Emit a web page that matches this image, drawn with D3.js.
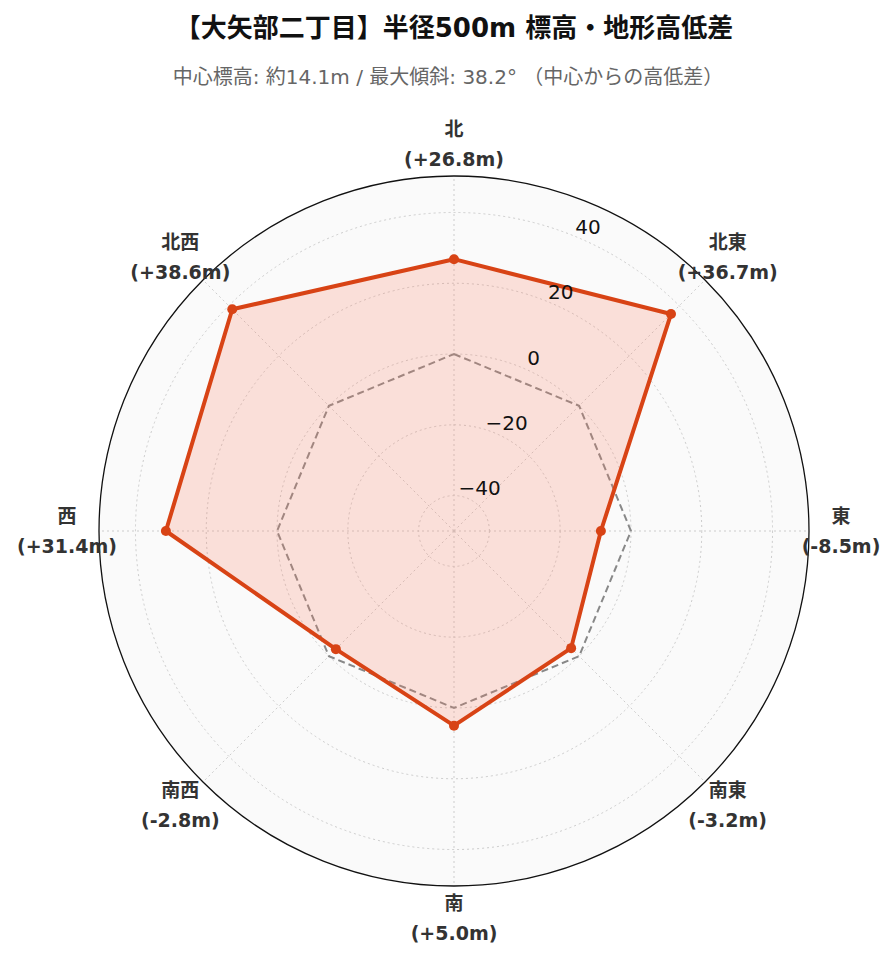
<!DOCTYPE html>
<html><head><meta charset="utf-8">
<script src="https://cdn.jsdelivr.net/npm/d3@7"></script>
<style>body{margin:0;background:#fff;font-family:"DejaVu Sans","Noto Sans CJK JP",sans-serif}</style>
</head><body>
<svg id="c" width="896" height="962"></svg>
<script>
const directions = ["北", "北東", "東", "南東", "南", "南西", "西", "北西"];
const values = [26.8, 36.7, -8.5, -3.2, 5.0, -2.8, 31.4, 38.6];
const radialTicks = [-40, -20, 0, 20, 40];
const title = "【大矢部二丁目】半径500m 標高・地形高低差";
const subtitle = "中心標高: 約14.1m / 最大傾斜: 38.2°  （中心からの高低差）";

const svg = d3.select("#c");
const cx = 454, cy = 531, R = 355;
const r = d3.scaleLinear().domain([-50, 50.3]).range([0, R]);
const ang = d3.scaleLinear().domain([0, directions.length]).range([0, 2 * Math.PI]);
const pt = (i, v) => [cx + r(v) * Math.sin(ang(i)), cy - r(v) * Math.cos(ang(i))];

svg.append("text").attr("x", 454).attr("y", 37).attr("text-anchor", "middle")
  .attr("font-size", 26).attr("font-weight", "bold").attr("fill", "#111").text(title);
svg.append("text").attr("x", 448).attr("y", 84).attr("text-anchor", "middle")
  .attr("font-size", 20).attr("fill", "#666").text(subtitle);

svg.append("circle").attr("cx", cx).attr("cy", cy).attr("r", R).attr("fill", "#fafafa");
const g = svg.append("g");
radialTicks.forEach(t => g.append("circle").attr("cx", cx).attr("cy", cy).attr("r", r(t))
  .attr("fill", "none").attr("stroke", "#ccc").attr("stroke-dasharray", "2,3"));
directions.forEach((d, i) => {
  const [x, y] = pt(i, 50.3);
  g.append("line").attr("x1", cx).attr("y1", cy).attr("x2", x).attr("y2", y)
    .attr("stroke", "#ccc").attr("stroke-dasharray", "2,3");
});

const line = d3.line().curve(d3.curveLinearClosed);
// zero reference
svg.append("path").attr("d", line(directions.map((d, i) => pt(i, 0))))
  .attr("fill", "none").attr("stroke", "#888").attr("stroke-width", 2).attr("stroke-dasharray", "7,4");
svg.append("path").attr("d", line(values.map((v, i) => pt(i, v))))
  .attr("fill", "#fa8064").attr("fill-opacity", 0.22)
  .attr("stroke", "#d84315").attr("stroke-width", 4).attr("stroke-linejoin", "round");
values.forEach((v, i) => {
  const [x, y] = pt(i, v);
  svg.append("circle").attr("cx", x).attr("cy", y).attr("r", 5).attr("fill", "#d84315");
});

svg.append("circle").attr("cx", cx).attr("cy", cy).attr("r", R).attr("fill", "none").attr("stroke", "#111").attr("stroke-width", 1.3);

const la = 22.5 * Math.PI / 180;
radialTicks.forEach(t => {
  svg.append("text").attr("x", cx + 12 + r(t) * Math.sin(la)).attr("y", cy - 10 - r(t) * Math.cos(la))
    .attr("text-anchor", "middle").attr("dy", "0.35em").attr("font-size", 20).attr("fill", "#111")
    .text(t < 0 ? "\u2212" + Math.abs(t) : t);
});

directions.forEach((d, i) => {
  const x = cx + 387 * Math.sin(ang(i)), y = cy - 387 * Math.cos(ang(i));
  const v = values[i];
  const t = svg.append("text").attr("x", x).attr("text-anchor", "middle")
    .attr("font-size", 19).attr("font-weight", "bold").attr("fill", "#333");
  t.append("tspan").attr("x", x).attr("y", y - 8).text(d);
  t.append("tspan").attr("x", x).attr("y", y + 22).text(`(${v >= 0 ? "+" : ""}${v.toFixed(1)}m)`);
});
</script>
</body></html>
